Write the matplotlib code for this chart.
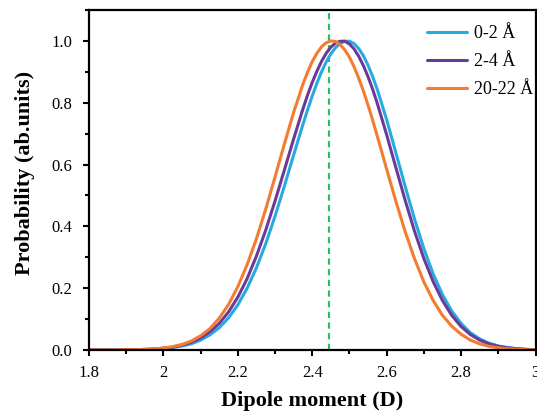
import matplotlib
matplotlib.use('Agg')
import matplotlib.pyplot as plt
from matplotlib.ticker import MultipleLocator, FuncFormatter

# ---------------- data ----------------
dipole = [1.800, 1.825, 1.850, 1.875, 1.900, 1.925, 1.950, 1.975,
          2.000, 2.025, 2.050, 2.075, 2.100, 2.125, 2.150, 2.175,
          2.200, 2.225, 2.250, 2.275, 2.300, 2.325, 2.350, 2.375,
          2.3875, 2.400, 2.4125, 2.425, 2.4375, 2.450, 2.4625, 2.475,
          2.4875, 2.500, 2.5125, 2.525, 2.5375, 2.550, 2.5625, 2.575,
          2.600, 2.625, 2.650, 2.675, 2.700, 2.725, 2.750, 2.775,
          2.800, 2.825, 2.850, 2.875, 2.900, 2.925, 2.950, 2.975, 3.000]

prob_0_2 = [0.000, 0.000, 0.000, 0.000, 0.000, 0.001, 0.001, 0.003,
            0.004, 0.008, 0.013, 0.020, 0.032, 0.049, 0.072, 0.104,
            0.146, 0.200, 0.266, 0.344, 0.433, 0.530, 0.631, 0.730,
            0.777, 0.822, 0.863, 0.900, 0.932, 0.958, 0.978, 0.992,
            0.999, 0.999, 0.991, 0.975, 0.952, 0.921, 0.884, 0.842,
            0.745, 0.637, 0.528, 0.423, 0.328, 0.246, 0.179, 0.126,
            0.086, 0.056, 0.036, 0.022, 0.013, 0.008, 0.004, 0.002, 0.001]

prob_2_4 = [0.000, 0.000, 0.000, 0.000, 0.001, 0.001, 0.002, 0.003,
            0.006, 0.009, 0.016, 0.025, 0.039, 0.059, 0.086, 0.123,
            0.171, 0.231, 0.304, 0.388, 0.482, 0.582, 0.683, 0.780,
            0.825, 0.866, 0.902, 0.934, 0.960, 0.980, 0.993, 0.999,
            0.999, 0.990, 0.974, 0.950, 0.920, 0.884, 0.843, 0.797,
            0.696, 0.589, 0.483, 0.384, 0.296, 0.221, 0.160, 0.112,
            0.076, 0.050, 0.032, 0.020, 0.012, 0.007, 0.004, 0.002, 0.001]

prob_20_22 = [0.000, 0.000, 0.000, 0.000, 0.001, 0.001, 0.002, 0.004,
              0.006, 0.011, 0.018, 0.029, 0.046, 0.069, 0.103, 0.147,
              0.205, 0.276, 0.360, 0.456, 0.560, 0.666, 0.769, 0.860,
              0.899, 0.933, 0.960, 0.981, 0.994, 1.000, 0.998, 0.988,
              0.971, 0.947, 0.916, 0.879, 0.838, 0.792, 0.743, 0.691,
              0.585, 0.480, 0.382, 0.295, 0.220, 0.160, 0.112, 0.077,
              0.051, 0.032, 0.020, 0.012, 0.007, 0.004, 0.002, 0.001, 0.001]

series_labels = ['0-2 Å', '2-4 Å', '20-22 Å']
series_colors = ['#27A9E1', '#6B3A98', '#F47B30']
ref_dipole = 2.445   # reference value (dashed line)

# ---------------- plot ----------------
plt.rcParams['font.family'] = ['Liberation Serif', 'DejaVu Serif']

fig = plt.figure(figsize=(5.37, 4.12), dpi=100)
ax = fig.add_axes([89 / 537, 62 / 412, 446.5 / 537, 340 / 412])

for y, lab, col in zip([prob_0_2, prob_2_4, prob_20_22], series_labels, series_colors):
    ax.plot(dipole, y, color=col, lw=2.2, label=lab,
            solid_capstyle='round', solid_joinstyle='round')

ax.axvline(ref_dipole, color='#2DBE5C', lw=1.6, ls=(0, (2.8, 2.0)), zorder=1)

ax.set_xlim(1.8, 3.0)
ax.set_ylim(0, 1.1)
ax.xaxis.set_major_locator(MultipleLocator(0.2))
ax.xaxis.set_minor_locator(MultipleLocator(0.1))
ax.yaxis.set_major_locator(MultipleLocator(0.2))
ax.yaxis.set_minor_locator(MultipleLocator(0.1))
ax.xaxis.set_major_formatter(FuncFormatter(lambda v, p: f'{v:g}'))
ax.yaxis.set_major_formatter(FuncFormatter(lambda v, p: f'{v:.1f}'))

ax.tick_params(which='both', direction='out', width=1.5, labelsize=12, top=False, right=False)
ax.tick_params(which='major', length=4)
ax.tick_params(which='minor', length=3)
ax.tick_params(axis='x', which='major', pad=7)
ax.tick_params(axis='y', which='major', pad=8)
for s in ax.spines.values():
    s.set_linewidth(1.6)

ax.set_xlabel('Dipole moment (D)', fontsize=16, fontweight='bold', labelpad=7)
ax.set_ylabel('Probability (ab.units)', fontsize=16, fontweight='bold', labelpad=12)
ax.yaxis.label.set_y(0.52)

# legend sits tight against the right spine
leg = ax.legend(loc='upper right', bbox_to_anchor=(1.03, 1.0), frameon=False, fontsize=13,
                handlelength=2.2, handletextpad=0.4, labelspacing=0.6,
                borderaxespad=0.1, borderpad=0.75)

plt.savefig('out.png', dpi=100)
